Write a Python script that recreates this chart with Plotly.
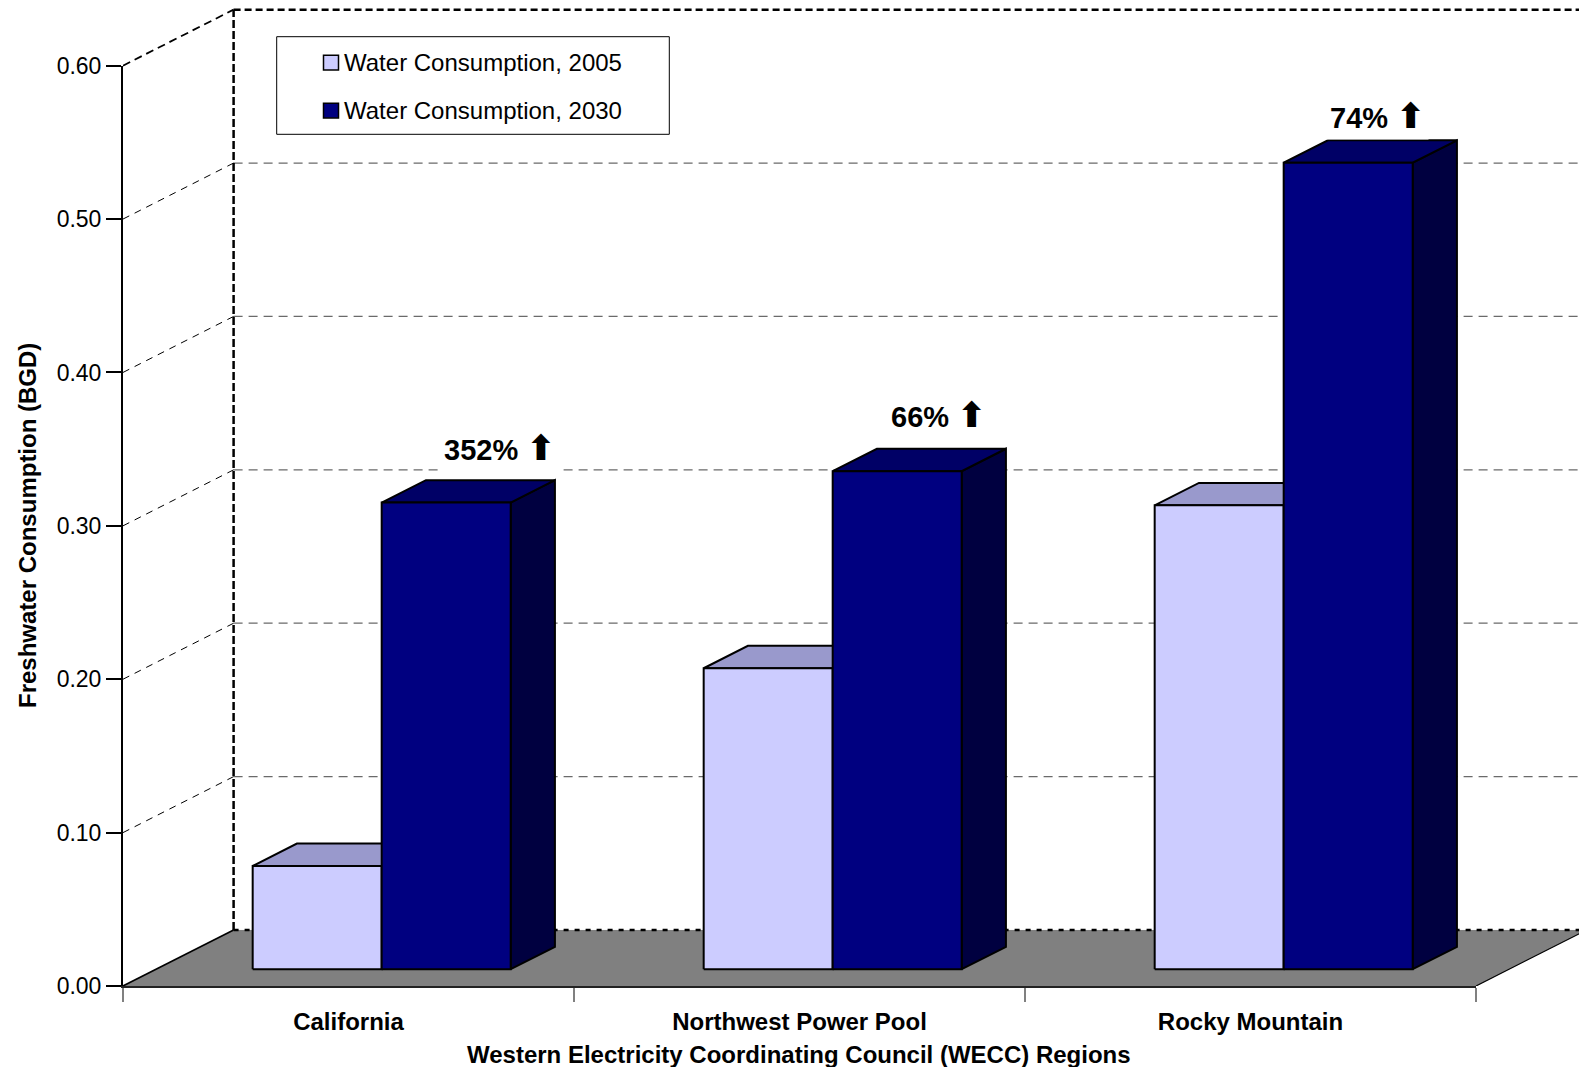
import plotly.graph_objects as go

# ---- data -------------------------------------------------------------
regions = ["California", "Northwest Power Pool", "Rocky Mountain"]
series_names = ["Water Consumption, 2005", "Water Consumption, 2030"]
consumption_2005 = [0.0673, 0.1962, 0.3024]   # billion gallons per day
consumption_2030 = [0.3042, 0.3247, 0.5258]
change_labels = ["352%", "66%", "74%"]
y_ticks = [0.0, 0.1, 0.2, 0.3, 0.4, 0.5, 0.6]

# ---- geometry ---------------------------------------------------------
W, H = 1579, 1067
ML, MB = 123, 81
PW, PH = W - ML, H - MB
CAT_PX = 451.0            # pixel width of one category on the front plane
Y_PX = 1533.9             # pixels per 1.0 BGD
XMAX = PW / CAT_PX
YMAX = PH / Y_PX

DX = 110.6 / CAT_PX       # depth of the chart box (x component)
DY = 56.0 / Y_PX          # depth of the chart box (y component)
BAR_W = 129.0 / CAT_PX
BAR_FRONT, BAR_BACK = 0.3, 0.7

FONT = "Liberation Sans, Arial, sans-serif"
colors = {
    "2005": {"front": "#CCCCFF", "top": "#9999CC", "side": "#666699"},
    "2030": {"front": "#000080", "top": "#000066", "side": "#000040"},
}


def px_x(p):
    return (p - ML) / PW


def px_y(p):
    return (PH - p) / PH


def poly(xs, ys, fill, width=2.0, color="black"):
    return go.Scatter(
        x=list(xs) + [xs[0]], y=list(ys) + [ys[0]], mode="lines",
        fill="toself", fillcolor=fill,
        line=dict(color=color, width=width),
        hoverinfo="skip", showlegend=False,
    )


def seg(x0, y0, x1, y1, color="black", width=1.0, dash="solid"):
    return go.Scatter(
        x=[x0, x1], y=[y0, y1], mode="lines",
        line=dict(color=color, width=width, dash=dash),
        hoverinfo="skip", showlegend=False,
    )


fig = go.Figure()
XR = XMAX + 0.5  # lines run past the right edge and get clipped

# floor
fig.add_trace(poly([0, 3, 3 + DX, DX], [0, 0, DY, DY], "#808080", width=0.1, color="#808080"))
fig.add_trace(seg(0, 0, DX, DY, width=1.6))
fig.add_trace(seg(3, 0, 3 + DX, DY, width=1.2))
fig.add_trace(seg(DX, DY, XR, DY, width=2.5, dash="5px,6px"))

# back wall gridlines and left wall diagonals
for v in y_ticks[1:-1]:
    fig.add_trace(seg(DX, v + DY, XR, v + DY, color="#6a6a6a", width=1.3, dash="9px,6px"))
    fig.add_trace(seg(0, v, DX, v + DY, width=1.0, dash="7px,6px"))
top = y_ticks[-1]
fig.add_trace(seg(0, top, DX, top + DY, width=1.8, dash="8px,5px"))
fig.add_trace(seg(DX, top + DY, XR, top + DY, width=2.5, dash="7px,4px"))
fig.add_trace(seg(DX, DY, DX, top + DY, width=2.5, dash="8px,3px"))

# 3-D bars: side, top, then front face of each bar
ddx = (BAR_BACK - BAR_FRONT) * DX
ddy = (BAR_BACK - BAR_FRONT) * DY
base = BAR_FRONT * DY
for i in range(len(regions)):
    c = i + 0.5 + BAR_FRONT * DX
    for key, vals, x0 in (("2005", consumption_2005, c - BAR_W), ("2030", consumption_2030, c)):
        v = vals[i]
        x1 = x0 + BAR_W
        t = base + v
        col = colors[key]
        fig.add_trace(poly([x1, x1 + ddx, x1 + ddx, x1], [base, base + ddy, t + ddy, t], col["side"]))
        fig.add_trace(poly([x0, x1, x1 + ddx, x0 + ddx], [t, t, t + ddy, t + ddy], col["top"]))
        fig.add_trace(poly([x0, x1, x1, x0], [base, base, t, t], col["front"]))

# percentage-change labels above the 2030 bars
label_shift = [(10, 32), (-3, 34), (-15, 24)]
for i, lab in enumerate(change_labels):
    xc = i + 0.5 + BAR_FRONT * DX + BAR_W / 2 + ddx
    yc = base + consumption_2030[i] + ddy
    fig.add_annotation(
        x=xc, y=yc, xref="x", yref="y",
        text=f"<b>{lab} <span style='font-family:DejaVu Sans;font-size:35px'>⬆</span></b>",
        showarrow=False,
        xshift=label_shift[i][0], yshift=label_shift[i][1],
        font=dict(family=FONT, size=29, color="black"),
        bgcolor="white", borderpad=3, xanchor="center", yanchor="middle",
    )

# helper trace so the front-plane axes are drawn
fig.add_trace(go.Scatter(x=[0], y=[0], xaxis="x2", yaxis="y2", mode="markers",
                         marker=dict(opacity=0), hoverinfo="skip", showlegend=False))

# legend box
fig.add_shape(type="rect", xref="paper", yref="paper",
              x0=px_x(276.7), x1=px_x(669.3), y0=px_y(134.3), y1=px_y(36.7),
              line=dict(color="black", width=1), fillcolor="white", layer="above")
for k, (name, yc) in enumerate(zip(series_names, [62.6, 110.6])):
    fc = colors["2005" if k == 0 else "2030"]["front"]
    fig.add_shape(type="rect", xref="paper", yref="paper",
                  x0=px_x(323.5), x1=px_x(338.5), y0=px_y(yc + 7.3), y1=px_y(yc - 7.3),
                  line=dict(color="black", width=1.5), fillcolor=fc, layer="above")
    fig.add_annotation(x=px_x(341.5), y=px_y(yc), xref="paper", yref="paper",
                       text=name, showarrow=False, xanchor="left", yanchor="middle",
                       font=dict(family=FONT, size=24, color="black"))

# axis titles
fig.add_annotation(x=px_x(27), y=px_y(526), xref="paper", yref="paper",
                   text="<b>Freshwater Consumption (BGD)</b>", textangle=-90,
                   showarrow=False, xanchor="center", yanchor="middle",
                   font=dict(family=FONT, size=24, color="black"))
fig.add_annotation(x=px_x(799.2), y=px_y(1054), xref="paper", yref="paper",
                   text="<b>Western Electricity Coordinating Council (WECC) Regions</b>",
                   showarrow=False, xanchor="center", yanchor="middle",
                   font=dict(family=FONT, size=24, color="black"))

fig.update_layout(
    width=W, height=H,
    margin=dict(l=ML, r=0, t=0, b=MB, pad=0, autoexpand=False),
    paper_bgcolor="white", plot_bgcolor="rgba(0,0,0,0)",
    showlegend=False,
    xaxis=dict(visible=False, range=[0, XMAX], domain=[0, 1], fixedrange=True, automargin=False),
    yaxis=dict(visible=False, range=[0, YMAX], domain=[0, 1], fixedrange=True, automargin=False),
    xaxis2=dict(
        domain=[0, 3 * CAT_PX / PW], range=[0, 3], anchor="y2", automargin=False,
        showline=True, linecolor="#222222", linewidth=2, showgrid=False, zeroline=False,
        tickmode="array", tickvals=[0.5, 1.5, 2.5],
        ticktext=[f"<b>{r}</b>" for r in regions],
        ticks="outside", ticklen=13, tickcolor="rgba(0,0,0,0)",
        tickfont=dict(family=FONT, size=24, color="black"),
        minor=dict(tickmode="array", tickvals=[0, 1, 2, 3], ticks="outside",
                   ticklen=14, tickwidth=1.5, tickcolor="#808080", showgrid=False),
    ),
    yaxis2=dict(
        domain=[0, top * Y_PX / PH], range=[0, top], anchor="x2", automargin=False,
        showline=True, linecolor="black", linewidth=2, showgrid=False, zeroline=False,
        tickmode="array", tickvals=y_ticks, ticktext=[f"{v:.2f}" for v in y_ticks],
        ticks="outside", ticklen=15, tickwidth=2, tickcolor="black",
        tickfont=dict(family=FONT, size=23, color="black"),
    ),
)

fig.write_html("out.html")
